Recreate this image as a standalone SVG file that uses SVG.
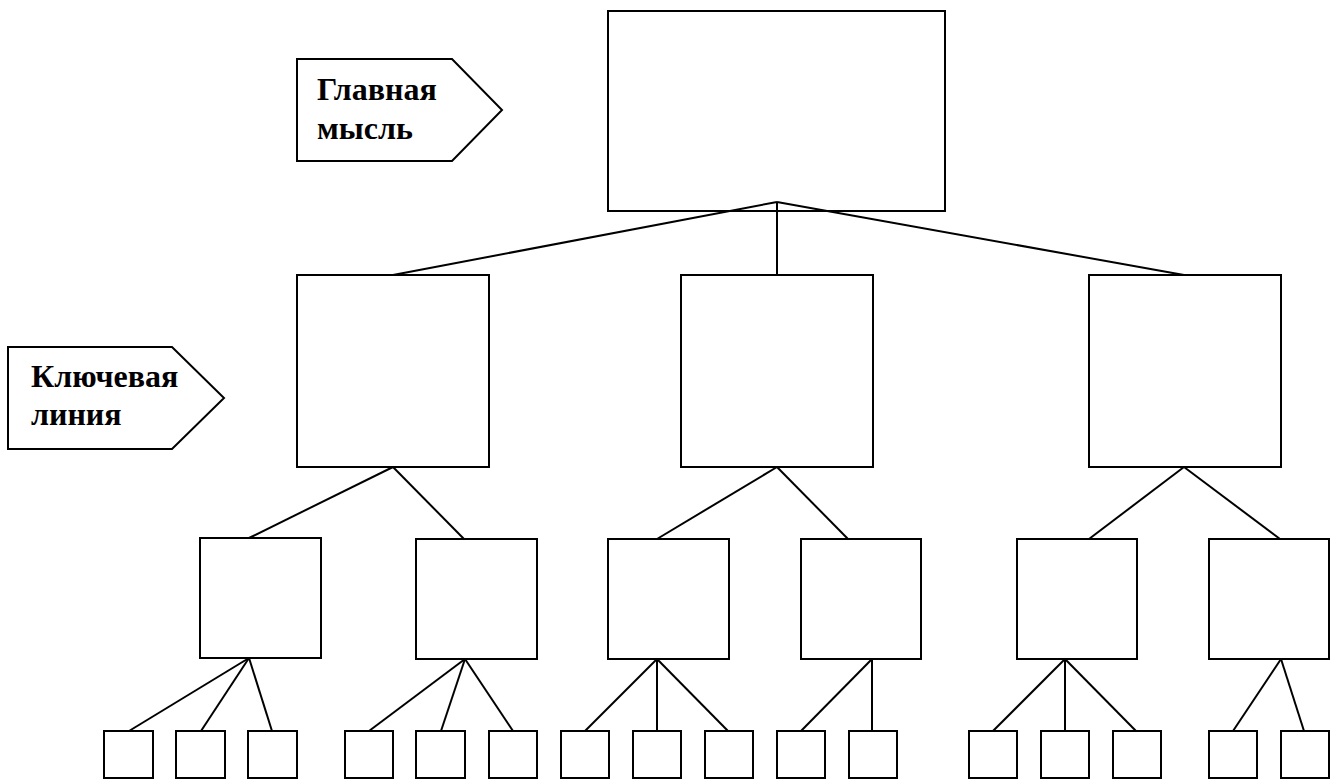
<svg xmlns="http://www.w3.org/2000/svg" width="1330" height="780" viewBox="0 0 1330 780">
<style>
.n{fill:#fff;stroke:#000;stroke-width:2}
.c line{stroke:#000;stroke-width:2}
.t{font-family:"Liberation Serif","Times New Roman",serif;font-weight:bold;font-size:32px;fill:#000}
</style>
<rect width="1330" height="780" fill="#fff"/>
<g id="label-main"><polygon class="n" points="297,59 452,59 502,110 452,161 297,161"/><text class="t" x="317" y="100">Главная</text><text class="t" x="317" y="139">мысль</text></g>
<g id="label-key"><polygon class="n" points="8,347 172,347 224,398 172,449 8,449"/><text class="t" x="31" y="387">Ключевая</text><text class="t" x="31" y="425">линия</text></g>
<g id="root"><rect class="n" x="608" y="11" width="337" height="200"/></g>
<g id="k1"><rect class="n" x="297" y="275" width="192" height="192"/></g>
<g id="k2"><rect class="n" x="681" y="275" width="192" height="192"/></g>
<g id="k3"><rect class="n" x="1089" y="275" width="192" height="192"/></g>
<g id="s1"><rect class="n" x="200" y="538" width="121" height="120"/></g>
<g id="s2"><rect class="n" x="416" y="539" width="121" height="120"/></g>
<g id="s3"><rect class="n" x="608" y="539" width="121" height="120"/></g>
<g id="s4"><rect class="n" x="801" y="539" width="120" height="120"/></g>
<g id="s5"><rect class="n" x="1017" y="539" width="120" height="120"/></g>
<g id="s6"><rect class="n" x="1209" y="539" width="120" height="120"/></g>
<g id="l1"><rect class="n" x="104" y="731" width="49" height="47"/></g>
<g id="l2"><rect class="n" x="176" y="731" width="49" height="47"/></g>
<g id="l3"><rect class="n" x="248" y="731" width="49" height="47"/></g>
<g id="l4"><rect class="n" x="345" y="731" width="48" height="47"/></g>
<g id="l5"><rect class="n" x="416" y="731" width="49" height="47"/></g>
<g id="l6"><rect class="n" x="489" y="731" width="48" height="47"/></g>
<g id="l7"><rect class="n" x="561" y="731" width="48" height="47"/></g>
<g id="l8"><rect class="n" x="633" y="731" width="48" height="47"/></g>
<g id="l9"><rect class="n" x="705" y="731" width="48" height="47"/></g>
<g id="l10"><rect class="n" x="777" y="731" width="48" height="47"/></g>
<g id="l11"><rect class="n" x="849" y="731" width="48" height="47"/></g>
<g id="l12"><rect class="n" x="969" y="731" width="48" height="47"/></g>
<g id="l13"><rect class="n" x="1041" y="731" width="48" height="47"/></g>
<g id="l14"><rect class="n" x="1113" y="731" width="48" height="47"/></g>
<g id="l15"><rect class="n" x="1209" y="731" width="48" height="47"/></g>
<g id="l16"><rect class="n" x="1281" y="731" width="48" height="47"/></g>
<g id="connectors" class="c">
<line x1="777" y1="202" x2="393" y2="275"/>
<line x1="777" y1="202" x2="777" y2="275"/>
<line x1="777" y1="202" x2="1184" y2="275"/>
<line x1="393" y1="467" x2="249" y2="538"/>
<line x1="393" y1="467" x2="464" y2="539"/>
<line x1="777" y1="467" x2="657" y2="539"/>
<line x1="777" y1="467" x2="848" y2="539"/>
<line x1="1184" y1="467" x2="1089" y2="539"/>
<line x1="1184" y1="467" x2="1280" y2="539"/>
<line x1="249" y1="658" x2="129" y2="731"/>
<line x1="249" y1="658" x2="201" y2="731"/>
<line x1="249" y1="658" x2="272" y2="731"/>
<line x1="465" y1="659" x2="369" y2="731"/>
<line x1="465" y1="659" x2="441" y2="731"/>
<line x1="465" y1="659" x2="513" y2="731"/>
<line x1="657" y1="659" x2="585" y2="731"/>
<line x1="657" y1="659" x2="657" y2="731"/>
<line x1="657" y1="659" x2="728" y2="731"/>
<line x1="872" y1="659" x2="801" y2="731"/>
<line x1="872" y1="659" x2="872" y2="731"/>
<line x1="1065" y1="659" x2="993" y2="731"/>
<line x1="1065" y1="659" x2="1065" y2="731"/>
<line x1="1065" y1="659" x2="1136" y2="731"/>
<line x1="1281" y1="659" x2="1233" y2="731"/>
<line x1="1281" y1="659" x2="1304" y2="731"/>
</g>
</svg>
